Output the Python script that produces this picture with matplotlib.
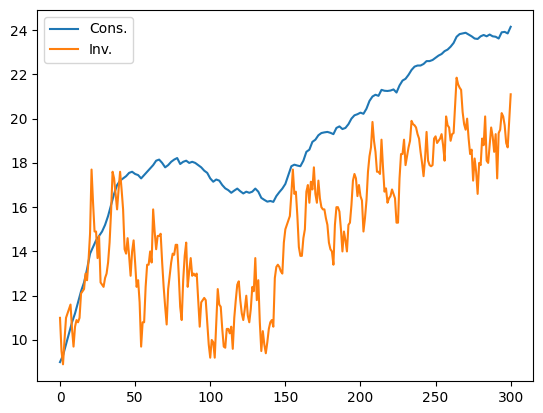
import numpy as np
import matplotlib
matplotlib.use('Agg')
import matplotlib.pyplot as plt

# Cons. - гладкий ряд, шаг 2
x_cons = np.arange(0, 301, 2)
cons = [9.0, 9.3, 9.8, 10.3, 10.8, 11.2, 11.7, 12.2, 12.6, 13.2,
        13.9, 14.2, 14.5, 14.7, 14.9, 15.2, 15.6, 16.1, 16.6, 17.0,
        17.2, 17.3, 17.4, 17.55, 17.6, 17.5, 17.45, 17.3, 17.45, 17.6,
        17.75, 17.9, 18.1, 18.15, 18.0, 17.8, 17.9, 18.05, 18.15, 18.22,
        17.95, 18.05, 18.1, 18.0, 18.05, 18.0, 17.9, 17.8, 17.65, 17.55,
        17.3, 17.15, 17.25, 17.2, 17.0, 16.85, 16.77, 16.65, 16.75, 16.84,
        16.72, 16.62, 16.7, 16.65, 16.7, 16.84, 16.7, 16.42, 16.33, 16.25,
        16.28, 16.24, 16.5, 16.68, 16.84, 17.05, 17.45, 17.85, 17.92, 17.88,
        17.85, 18.1, 18.5, 18.6, 18.95, 19.05, 19.25, 19.35, 19.38, 19.4,
        19.36, 19.3, 19.58, 19.65, 19.53, 19.58, 19.75, 20.0, 20.15, 20.2,
        20.27, 20.22, 20.45, 20.8, 21.0, 21.08, 21.03, 21.3, 21.26, 21.25,
        21.27, 21.32, 21.18, 21.5, 21.72, 21.8, 21.98, 22.2, 22.35, 22.4,
        22.4, 22.47, 22.6, 22.6, 22.65, 22.75, 22.85, 22.92, 23.05, 23.12,
        23.25, 23.42, 23.7, 23.82, 23.85, 23.88, 23.8, 23.72, 23.62, 23.6,
        23.72, 23.78, 23.72, 23.8, 23.72, 23.7, 23.62, 23.9, 23.92, 23.85,
        24.15]

# Inv. - шумный ряд, шаг 1
x_inv = np.arange(0, 301)
inv = [11.0, 9.5, 8.9, 10.0, 11.0, 11.2, 11.4, 11.6, 10.5, 9.7,
       10.6, 10.9, 10.8, 11.0, 12.1, 12.2, 12.3, 13.0, 12.7, 13.6,
       14.8, 17.7, 16.2, 14.9, 14.9, 13.7, 14.7, 12.6, 12.5, 12.4,
       12.8, 13.0, 13.5, 14.4, 15.8, 17.6, 17.3, 16.6, 15.9, 16.8,
       17.6, 16.8, 15.9, 14.1, 13.9, 14.6, 13.8, 12.9, 14.0, 14.5,
       13.5, 12.4, 12.7, 11.7, 9.7, 10.8, 10.8, 12.4, 13.4, 13.4,
       14.0, 13.5, 15.9, 14.9, 14.1, 14.7, 14.7, 14.8, 13.5, 12.4,
       11.5, 10.7, 12.3, 12.9, 13.5, 13.9, 13.85, 14.3, 14.3, 13.0,
       11.5, 10.9, 12.7, 13.8, 14.4, 12.4, 13.1, 13.7, 12.9, 13.0,
       12.9, 13.0, 11.8, 10.6, 11.7, 11.8, 11.9, 11.8, 10.8, 9.8,
       9.2, 10.0, 9.9, 9.2, 10.8, 12.3, 11.6, 11.5, 10.5, 9.7,
       9.65, 10.5, 10.5, 10.3, 10.6, 9.6, 11.0, 11.8, 12.5, 12.65,
       11.8, 11.2, 10.9, 11.4, 12.0, 11.1, 10.8, 11.4, 12.4, 12.2,
       13.7, 11.8, 12.7, 10.8, 9.5, 10.4, 9.8, 9.4, 9.9, 10.5,
       10.8, 10.9, 10.6, 12.8, 13.3, 13.4, 13.3, 13.1, 13.0, 14.4,
       15.0, 15.2, 15.4, 15.6, 16.6, 17.7, 16.6, 16.7, 15.6, 14.2,
       13.8, 13.8, 14.6, 15.0, 16.7, 17.0, 16.2, 17.15, 16.8, 17.8,
       16.6, 16.2, 17.2, 16.4, 16.0, 15.9, 15.9, 15.5, 15.2, 14.4,
       14.1, 14.0, 13.4, 15.2, 16.0, 16.0, 15.8, 15.0, 14.0, 14.9,
       14.5, 14.0, 15.2, 15.3, 16.1, 17.2, 17.5, 17.3, 16.5, 17.0,
       16.5, 16.3, 14.9, 15.5, 16.3, 17.6, 18.3, 18.7, 19.85, 19.0,
       18.5, 17.6, 17.6, 17.5, 19.05, 17.8, 16.7, 16.85, 16.2, 16.4,
       16.5, 16.8, 16.6, 16.4, 15.3, 15.3, 17.3, 18.4, 18.4, 19.05,
       17.9, 18.3, 18.7, 19.0, 19.9, 19.75, 19.7, 19.6, 19.3, 19.1,
       18.5, 18.0, 17.4, 18.2, 19.4, 18.1, 17.9, 17.85, 17.9, 19.1,
       19.2, 18.9, 19.0, 19.1, 19.3, 18.8, 18.1, 20.1, 19.7, 19.6,
       19.0, 19.3, 19.35, 20.6, 21.85, 21.55, 21.4, 21.3, 20.3, 19.75,
       19.5, 20.0, 19.1, 18.4, 18.6, 17.2, 18.2, 17.6, 16.6, 18.0,
       17.9, 19.1, 18.8, 20.1, 18.1, 18.0, 18.8, 19.6, 19.2, 18.5,
       19.3, 17.3, 19.35, 19.5, 20.25, 20.1, 19.7, 18.9, 18.7, 19.9,
       21.1]

fig, ax = plt.subplots(figsize=(5.43, 4.13), dpi=100)
fig.subplots_adjust(left=0.069, right=0.982, bottom=0.077, top=0.976)

ax.plot(x_cons, cons, label="Cons.")
ax.plot(x_inv, inv, label="Inv.")
ax.legend(loc='upper left')

fig.savefig('out.png')
